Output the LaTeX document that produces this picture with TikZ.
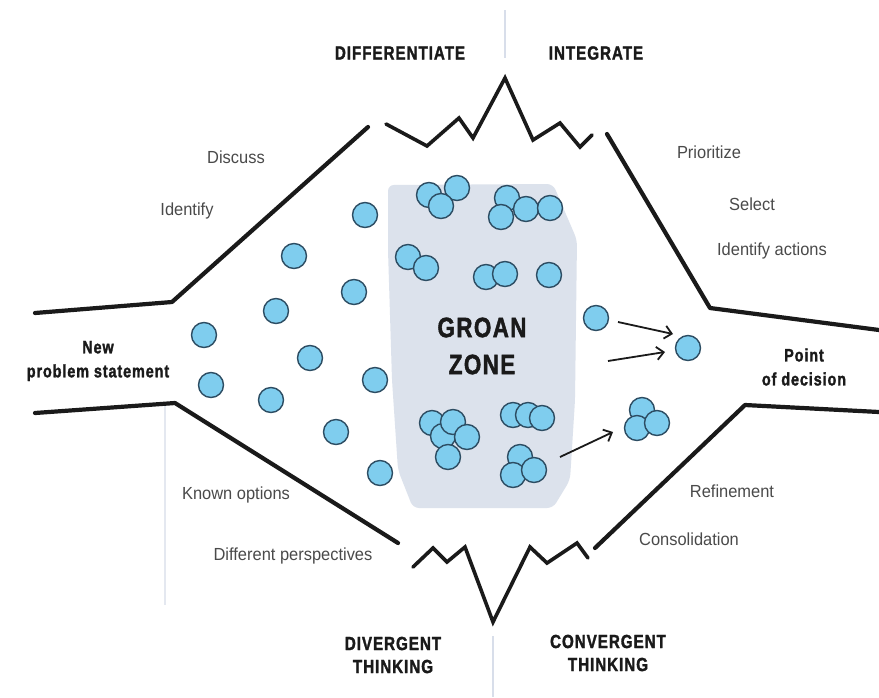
\documentclass[tikz,border=0pt]{standalone}
\usepackage{fontspec}
\usetikzlibrary{arrows.meta}
\newfontfamily\labfont{Liberation Sans}[FakeStretch=0.94]
\newfontfamily\headfont{Liberation Sans}[FakeStretch=0.8, LetterSpace=5, BoldFeatures={FakeBold=1.6}]
\definecolor{zone}{HTML}{DCE2EC}
\definecolor{dot}{HTML}{7FCDEE}
\definecolor{dotline}{HTML}{2D4D63}
\definecolor{guide}{HTML}{D8DEEA}
\definecolor{labgray}{HTML}{4A4A4A}
\definecolor{ink}{HTML}{1A1A1A}
\begin{document}
\begin{tikzpicture}[x=1pt,y=-1pt,
  bubble/.style={circle, fill=dot, draw=dotline, line width=1.4pt, minimum size=25pt, inner sep=0pt},
  outline/.style={draw=ink, line width=4.2pt, line cap=round, line join=round},
  zig/.style={draw=ink, line width=3.6pt, line cap=round, line join=miter},
  guideline/.style={draw=guide, line width=2pt},
  lab/.style={font=\labfont\fontsize{17.5}{18}\selectfont, text=labgray, inner sep=0pt},
  head/.style={font=\headfont\bfseries\fontsize{19}{23}\selectfont, text=ink, align=center, inner sep=0pt},
  side/.style={font=\headfont\bfseries\fontsize{18}{24}\selectfont, text=ink, align=center, inner sep=0pt},
  arr/.style={draw=ink, line width=1.8pt, -{Straight Barb[length=7pt,width=13pt,line width=1.8pt]}}]
\useasboundingbox (0,0) rectangle (879,697);
\fill[white] (0,0) rectangle (879,697);

% guide lines
\draw[guideline] (505,10) -- (505,58);
\draw[guideline] (493,636) -- (493,697);
\draw[guideline, draw=guide!70] (165,402) -- (165,605);

% groan zone
\fill[zone, rounded corners=6pt] (388,185) -- (553,184) -- (577,240) -- (575,400) -- (570,480) -- (553,508) -- (413,508) -- (398,470) -- (392,380) -- (388,250) -- cycle;

% left single bubbles
\node[bubble] (l1) at (365,215) {};
\node[bubble] (l2) at (294,256) {};
\node[bubble] (l3) at (354,292) {};
\node[bubble] (l4) at (276,311) {};
\node[bubble] (l5) at (204,335) {};
\node[bubble] (l6) at (310,358) {};
\node[bubble] (l7) at (375,380) {};
\node[bubble] (l8) at (211,385) {};
\node[bubble] (l9) at (271,400) {};
\node[bubble] (l10) at (336,432) {};
\node[bubble] (l11) at (380,473) {};

% cluster A
\node[bubble] (a1) at (429,195) {};
\node[bubble] (a2) at (457,188) {};
\node[bubble] (a3) at (441,206) {};
% cluster B
\node[bubble] (b1) at (507,198) {};
\node[bubble] (b2) at (501,217) {};
\node[bubble] (b3) at (526,209) {};
\node[bubble] (b4) at (550,208) {};
% cluster C
\node[bubble] (c1) at (408,257) {};
\node[bubble] (c2) at (426,268) {};
% cluster D
\node[bubble] (d1) at (486,277) {};
\node[bubble] (d2) at (505,274) {};
% single E
\node[bubble] (e1) at (549,275) {};
% cluster F
\node[bubble] (f1) at (432,423) {};
\node[bubble] (f3) at (443,436) {};
\node[bubble] (f2) at (453,422) {};
\node[bubble] (f4) at (467,437) {};
\node[bubble] (f5) at (448,457) {};
% cluster G
\node[bubble] (g1) at (513,415) {};
\node[bubble] (g2) at (528,415) {};
\node[bubble] (g3) at (542,418) {};
% cluster H
\node[bubble] (h1) at (520,457) {};
\node[bubble] (h2) at (513,475) {};
\node[bubble] (h3) at (534,470) {};
% right side
\node[bubble] (s1) at (596,318) {};
\node[bubble] (t1) at (688,348) {};
\node[bubble] (i1) at (642,410) {};
\node[bubble] (i2) at (637,428) {};
\node[bubble] (i3) at (657,423) {};

% arrows
\coordinate (a1s) at (618,322);
\coordinate (a1e) at (673,334);
\coordinate (a2s) at (608,361);
\coordinate (a2e) at (665,352);
\coordinate (a3s) at (560,457);
\coordinate (a3e) at (613,432);
\draw[arr] (a1s) -- (a1e);
\draw[arr] (a2s) -- (a2e);
\draw[arr] (a3s) -- (a3e);

% funnel outlines
\draw[outline] (35,313) -- (172,302) -- (368,127);
\draw[outline] (35,413) -- (175,403) -- (398,543);
\draw[outline] (607,134) -- (710,308) -- (879,330);
\draw[outline] (879,412) -- (745,405) -- (595,548);
% zigzags
\draw[zig] (386,124) -- (427,146) -- (459,118) -- (473,138) -- (505,78) -- (533,140) -- (560,123) -- (580,147) -- (592,135);
\draw[zig] (413,567) -- (433,548) -- (447,562) -- (465,547) -- (493,622) -- (530,547) -- (547,563) -- (577,543) -- (588,558);

% headings
\node[head] (diff) at (400,53) {DIFFERENTIATE};
\node[head] (integ) at (596,53) {INTEGRATE};
\node[head] (div) at (393,655) {DIVERGENT\\THINKING};
\node[head] (conv) at (608,653) {CONVERGENT\\THINKING};
\node[side] (newp) at (98,361) {New\\problem statement};
\node[side] (pod) at (804,367) {Point\\of decision};
\node[font=\headfont\bfseries\fontsize{28}{37}\selectfont, text=ink, align=center, inner sep=0pt] (groan) at (482,346) {GROAN\\ZONE};

% gray labels
\node[lab] (discuss) at (236,157) {Discuss};
\node[lab] (identify) at (187,211) {Identify};
\node[lab] (known) at (236,495) {Known options};
\node[lab] (diffp) at (293,556) {Different perspectives};
\node[lab] (prio) at (709,152) {Prioritize};
\node[lab] (select) at (752,204) {Select};
\node[lab] (idact) at (772,251) {Identify actions};
\node[lab] (refine) at (732,491) {Refinement};
\node[lab] (consol) at (689,539) {Consolidation};
\end{tikzpicture}
\end{document}
